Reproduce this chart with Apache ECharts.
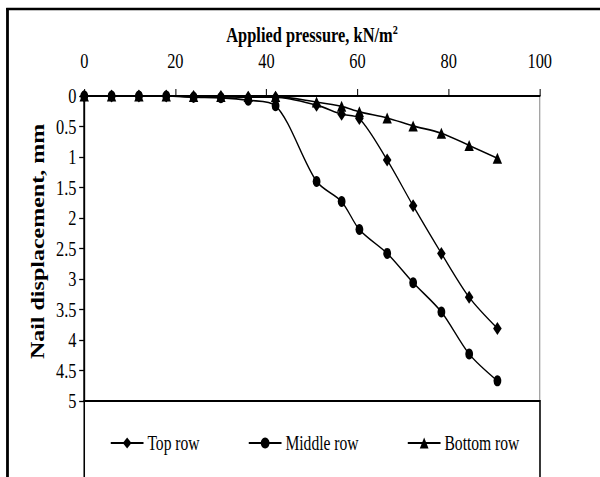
<!DOCTYPE html>
<html>
<head>
<meta charset="utf-8">
<script src="https://cdn.jsdelivr.net/npm/echarts@6/dist/echarts.min.js"></script>
<style>
html, body { margin: 0; padding: 0; background: #fff; overflow: hidden; }
/* the figure is drawn wide and then narrowed horizontally */
#chart { width: 770px; height: 477px; transform: scaleX(0.78); transform-origin: 0 0; }
</style>
</head>
<body>
<div id="chart"></div>
<script>
// Applied pressure (kN/m2) at each load step
const pressure = [0, 6, 12, 18, 24, 30, 36, 42, 51, 56.5, 60.4, 66.5, 72.2, 78.4, 84.5, 90.7];

// Nail displacement (mm) for each nail row
const topRow    = [0, 0, 0, 0, 0.01, 0.01, 0.02, 0.02, 0.15, 0.30, 0.37, 1.05, 1.80, 2.58, 3.30, 3.81];
const middleRow = [0, 0, 0, 0, 0.02, 0.03, 0.07, 0.16, 1.40, 1.73, 2.19, 2.58, 3.06, 3.54, 4.23, 4.67];
const bottomRow = [0, 0, 0, 0, 0.01, 0.01, 0.01, 0.01, 0.10, 0.17, 0.26, 0.36, 0.49, 0.61, 0.81, 1.02];

const seriesNames = ['Top row', 'Middle row', 'Bottom row'];

// Axis ranges and tick steps
const xRange = [0, 100];
const xStep = 20;
const yRange = [0, 5];
const yStep = 0.5;

const FONT = "'Liberation Serif', 'Times New Roman', serif";

function pairs(values) {
  return pressure.map((p, i) => [p, values[i]]);
}

function lineSeries(name, values, symbol, size) {
  return {
    name: name,
    type: 'line',
    data: pairs(values),
    symbol: symbol,
    symbolSize: size,
    smooth: 0.3,
    itemStyle: { color: '#000' },
    lineStyle: { color: '#000', width: 1.6 },
    emphasis: { disabled: true }
  };
}

const chart = echarts.init(document.getElementById('chart'), null, { renderer: 'svg' });

chart.setOption({
  animation: false,
  backgroundColor: '#fff',
  grid: {
    left: 108, right: 78, top: 96, bottom: 76,
    show: true, borderColor: '#888', borderWidth: 1.3, backgroundColor: 'transparent'
  },
  xAxis: {
    type: 'value',
    position: 'top',
    min: xRange[0], max: xRange[1], interval: xStep,
    name: 'Applied pressure, kN/m{sup|2}',
    nameLocation: 'middle',
    nameGap: 38,
    nameTextStyle: {
      fontFamily: FONT, fontSize: 21, fontWeight: 'bold', color: '#000',
      rich: {
        sup: { fontFamily: FONT, fontSize: 13, fontWeight: 'bold', color: '#000', verticalAlign: 'top', padding: [0, 0, 9, 0] }
      }
    },
    axisLine: { show: true, lineStyle: { color: '#000', width: 2 } },
    axisTick: { show: true, inside: false, length: 7, lineStyle: { color: '#000', width: 1.3 } },
    axisLabel: { fontFamily: FONT, fontSize: 21, color: '#000', margin: 25 },
    splitLine: { show: false }
  },
  yAxis: {
    type: 'value',
    inverse: true,
    min: yRange[0], max: yRange[1], interval: yStep,
    name: 'Nail displacement, mm',
    nameLocation: 'middle',
    nameRotate: 90,
    nameGap: 46,
    nameTextStyle: { fontFamily: FONT, fontSize: 24, fontWeight: 'bold', color: '#000', padding: [0, 0, 0, 14] },
    axisLine: { show: true, lineStyle: { color: '#000', width: 2.4 } },
    axisTick: { show: true, inside: false, length: 6.5, lineStyle: { color: '#000', width: 1.3 } },
    axisLabel: { fontFamily: FONT, fontSize: 21, color: '#000', margin: 10 },
    splitLine: { show: false }
  },
  legend: {
    data: seriesNames,
    left: 136,
    top: 428,
    itemWidth: 42,
    itemHeight: 14,
    itemGap: 62,
    textStyle: { fontFamily: FONT, fontSize: 20, color: '#000' },
    selectedMode: false
  },
  graphic: [
    // outer frame (top and left edges)
    { type: 'line', shape: { x1: 8, y1: 9, x2: 770, y2: 9 }, style: { stroke: '#000', lineWidth: 2.5 } },
    { type: 'line', shape: { x1: 9.6, y1: 8, x2: 9.6, y2: 477 }, style: { stroke: '#000', lineWidth: 3.6 } },
    // box holding the legend under the plot
    { type: 'rect', shape: { x: 108, y: 401, width: 584.3, height: 120 }, style: { fill: 'none', stroke: '#000', lineWidth: 2 } }
  ],
  series: [
    lineSeries(seriesNames[0], topRow, 'diamond', [11, 13]),
    lineSeries(seriesNames[1], middleRow, 'circle', [10, 11]),
    lineSeries(seriesNames[2], bottomRow, 'triangle', [12, 11])
  ]
});
</script>
</body>
</html>
